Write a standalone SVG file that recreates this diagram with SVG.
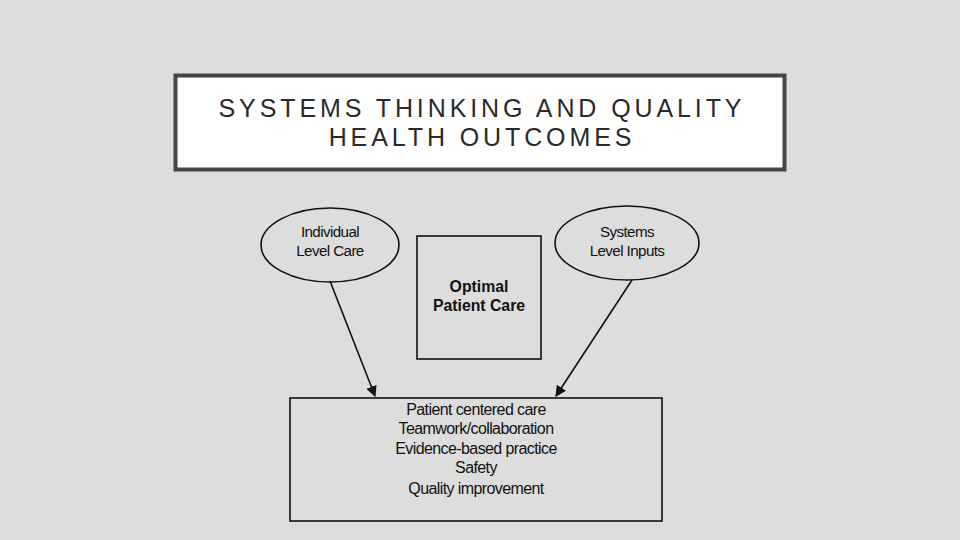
<svg xmlns="http://www.w3.org/2000/svg" width="960" height="540" viewBox="0 0 960 540">
<style>
.t{font-family:"Liberation Sans",Arial,sans-serif;font-size:15.2px;fill:#111;text-anchor:middle;letter-spacing:-0.6px}
.l{font-size:16px}
.b{font-weight:bold;font-size:15.8px;letter-spacing:0}
.title{font-family:"Liberation Sans",Arial,sans-serif;font-size:25px;fill:#2a2a2a;text-anchor:middle;letter-spacing:3.9px}
.sh{fill:none;stroke:#111;stroke-width:1.6}
.ln{stroke:#111;stroke-width:1.6;fill:none;marker-end:url(#ah)}
</style>
<defs>
<marker id="ah" viewBox="0 0 10 10" refX="9" refY="5" markerWidth="11" markerHeight="11" markerUnits="userSpaceOnUse" orient="auto">
<path d="M0,0 L10,5 L0,10 z" fill="#111"/>
</marker>
</defs>
<rect width="960" height="540" fill="#dddddd"/>
<g id="title">
<rect x="175.5" y="75.5" width="609" height="94" fill="#fff" stroke="#444" stroke-width="4"/>
<text class="title" x="482" y="117">SYSTEMS THINKING AND QUALITY</text>
<text class="title" x="482" y="146">HEALTH OUTCOMES</text>
</g>
<g id="individual">
<ellipse class="sh" cx="330" cy="245" rx="69" ry="37"/>
<text class="t" x="330" y="237">Individual</text>
<text class="t" x="330" y="256">Level Care</text>
</g>
<g id="systems">
<ellipse class="sh" cx="627" cy="243" rx="72" ry="37"/>
<text class="t" x="627" y="237">Systems</text>
<text class="t" x="627" y="256">Level Inputs</text>
</g>
<g id="optimal">
<rect class="sh" x="417" y="236" width="124" height="123"/>
<text class="t b" x="479" y="292">Optimal</text>
<text class="t b" x="479" y="311">Patient Care</text>
</g>
<g id="outcomes">
<rect class="sh" x="290" y="398" width="372" height="123"/>
<text class="t l" x="476" y="415">Patient centered care</text>
<text class="t l" x="476" y="434">Teamwork/collaboration</text>
<text class="t l" x="476" y="454">Evidence-based practice</text>
<text class="t l" x="476" y="473">Safety</text>
<text class="t l" x="476" y="494">Quality improvement</text>
</g>
<g id="connectors">
<line class="ln" x1="330" y1="281" x2="375" y2="396"/>
<line class="ln" x1="632" y1="280" x2="556" y2="396"/>
</g>
</svg>
